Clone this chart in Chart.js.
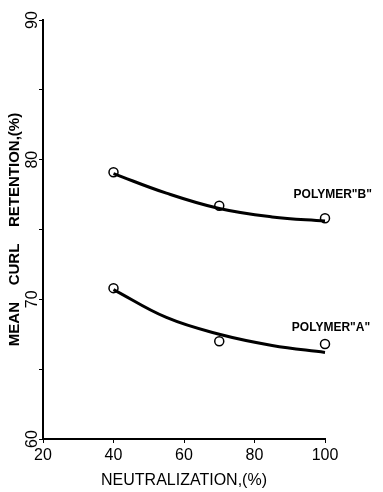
<!DOCTYPE html>
<html>
<head>
<meta charset="utf-8">
<script src="https://cdn.jsdelivr.net/npm/chart.js@4/dist/chart.umd.min.js"></script>
<style>
  html, body { margin: 0; padding: 0; background: #fff; }
  #wrap { width: 383px; height: 492px; }
</style>
</head>
<body>
<div id="wrap"><canvas id="curlChart"></canvas></div>
<script>
// measured points (neutralization %, mean curl retention %)
const neutralization = [40, 70, 100];
const polymerA = [70.8, 67.0, 66.8];
const polymerB = [79.1, 76.7, 75.8];

// fitted curves
const fitX = [40, 55, 70, 85, 100];
const fitA = [70.7, 68.7, 67.5, 66.7, 66.2];
const fitB = [79.0, 77.6, 76.5, 75.9, 75.6];

const xTicks = [20, 40, 60, 80, 100];
const yTicks = [60, 70, 80, 90];

const seriesLabels = [
  { text: 'POLYMER"B"', x: 113.3, y: 77.5 },
  { text: 'POLYMER"A"', x: 112.8, y: 68.0 }
];

const pairs = (xs, ys) => xs.map((x, i) => ({ x: x, y: ys[i] }));

const fontFam = '"Liberation Sans", Arial, sans-serif';

const labelPlugin = {
  id: 'seriesLabels',
  afterDatasetsDraw(chart) {
    const { ctx, scales } = chart;
    ctx.save();
    ctx.fillStyle = '#000';
    ctx.font = 'bold 12px ' + fontFam;
    ctx.textAlign = 'right';
    ctx.textBaseline = 'middle';
    seriesLabels.forEach(l => {
      ctx.fillText(l.text, scales.x.getPixelForValue(l.x), scales.y.getPixelForValue(l.y));
    });
    ctx.restore();
  }
};

const fitStyle = {
  showLine: true,
  borderColor: '#000',
  borderWidth: 3,
  pointRadius: 0,
  tension: 0.4,
  clip: false
};

const markStyle = {
  pointRadius: 4.5,
  pointBackgroundColor: '#fff',
  pointBorderColor: '#000',
  pointBorderWidth: 1.5,
  clip: false
};

new Chart(document.getElementById('curlChart'), {
  type: 'scatter',
  data: {
    datasets: [
      Object.assign({ label: 'fit B', data: pairs(fitX, fitB) }, fitStyle),
      Object.assign({ label: 'fit A', data: pairs(fitX, fitA) }, fitStyle),
      Object.assign({ label: 'Polymer B', data: pairs(neutralization, polymerB) }, markStyle),
      Object.assign({ label: 'Polymer A', data: pairs(neutralization, polymerA) }, markStyle)
    ]
  },
  options: {
    responsive: true,
    maintainAspectRatio: false,
    animation: false,
    layout: { padding: { top: 20, right: 58, left: 0, bottom: 0 } },
    plugins: { legend: { display: false }, tooltip: { enabled: false } },
    scales: {
      x: {
        type: 'linear',
        min: 20,
        max: 100,
        afterBuildTicks: s => { s.ticks = xTicks.map(v => ({ value: v })); },
        afterFit: s => { s.height = 53; s.paddingLeft = 0; s.paddingRight = 0; },
        grid: { drawOnChartArea: false, color: '#000', tickLength: 4 },
        border: { color: '#000', width: 2 },
        ticks: { color: '#000', font: { family: fontFam, size: 16 }, padding: 3, maxRotation: 0 },
        title: {
          display: true,
          text: 'NEUTRALIZATION,(%)',
          color: '#000',
          font: { family: fontFam, size: 16 },
          padding: { top: 3, bottom: 2 }
        }
      },
      y: {
        type: 'linear',
        min: 60,
        max: 90,
        afterBuildTicks: s => { s.ticks = [60, 65, 70, 75, 80, 85, 90].map(v => ({ value: v })); },
        afterFit: s => { s.width = 43; s.paddingTop = 0; s.paddingBottom = 0; },
        grid: { drawOnChartArea: false, color: '#000', tickLength: 4 },
        border: { color: '#000', width: 2 },
        ticks: {
          color: '#000',
          font: { family: fontFam, size: 16 },
          padding: -2,
          minRotation: 90,
          maxRotation: 90,
          crossAlign: 'center',
          callback: v => (yTicks.includes(v) ? String(v) : '')
        },
        title: {
          display: true,
          text: 'MEAN    CURL    RETENTION,(%)',
          color: '#000',
          font: { family: fontFam, size: 15, weight: 'bold' },
          padding: { top: 6, bottom: 0 }
        }
      }
    }
  },
  plugins: [labelPlugin]
});
</script>
</body>
</html>
